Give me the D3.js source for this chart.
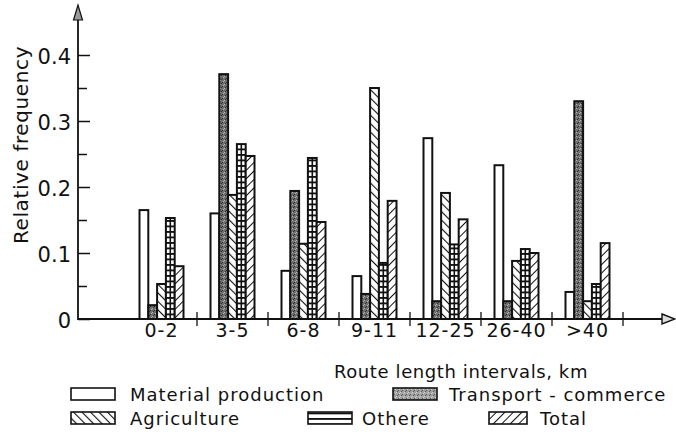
<!DOCTYPE html>
<html>
<head>
<meta charset="utf-8">
<script src="https://cdn.jsdelivr.net/npm/d3@7"></script>
<style>
  body { margin: 0; background: #fff; }
  text { font-family: "DejaVu Sans", sans-serif; fill: #111; }
</style>
</head>
<body>
<div id="chart"></div>
<script>
// Data
var categories = ["0-2", "3-5", "6-8", "9-11", "12-25", "26-40", ">40"];
var series = ["Material production", "Transport - commerce", "Agriculture", "Othere", "Total"];
var material    = [0.165, 0.160, 0.073, 0.065, 0.274, 0.233, 0.041];
var transport   = [0.021, 0.371, 0.194, 0.038, 0.027, 0.027, 0.330];
var agriculture = [0.053, 0.188, 0.114, 0.350, 0.191, 0.088, 0.027];
var othere      = [0.153, 0.265, 0.244, 0.085, 0.113, 0.106, 0.053];
var total       = [0.080, 0.247, 0.147, 0.179, 0.151, 0.100, 0.115];
var yTicks = [0, 0.1, 0.2, 0.3, 0.4];
var yMinorTicks = [0.05, 0.15, 0.25, 0.35];

var seriesValues = [material, transport, agriculture, othere, total];
var fills = ["#fff", "url(#pat-transport)", "url(#pat-agri)", "url(#pat-other)", "url(#pat-total)"];

var width = 676, height = 434;
var axisX = 78, axisY = 319;

var svg = d3.select("#chart")
  .append("svg")
  .attr("width", width)
  .attr("height", height);

// hatch patterns
var defs = svg.append("defs");

function stipple(id, base, dark, light) {
  var p = defs.append("pattern")
    .attr("id", id)
    .attr("patternUnits", "userSpaceOnUse")
    .attr("width", 4).attr("height", 4);
  p.append("rect").attr("width", 4).attr("height", 4).attr("fill", base);
  p.append("rect").attr("x", 0).attr("y", 0).attr("width", 1).attr("height", 1).attr("fill", light);
  p.append("rect").attr("x", 2).attr("y", 2).attr("width", 1).attr("height", 1).attr("fill", dark);
  p.append("rect").attr("x", 3).attr("y", 1).attr("width", 1).attr("height", 1).attr("fill", light);
  p.append("rect").attr("x", 1).attr("y", 3).attr("width", 1).attr("height", 1).attr("fill", dark);
}
stipple("pat-transport", "#6f6f6f", "#2e2e2e", "#b5b5b5");
stipple("pat-transport-key", "#a0a0a0", "#5a5a5a", "#d0d0d0");

function hatch(id, size, angle, sw) {
  var p = defs.append("pattern")
    .attr("id", id)
    .attr("patternUnits", "userSpaceOnUse")
    .attr("width", size).attr("height", size)
    .attr("patternTransform", "rotate(" + angle + ")");
  p.append("rect").attr("width", size).attr("height", size).attr("fill", "#fff");
  p.append("line")
    .attr("x1", 0).attr("y1", 0).attr("x2", 0).attr("y2", size)
    .attr("stroke", "#111").attr("stroke-width", sw);
}
hatch("pat-agri", 6, -45, 2.2);
hatch("pat-total", 6, 45, 2);

var po = defs.append("pattern")
  .attr("id", "pat-other")
  .attr("patternUnits", "userSpaceOnUse")
  .attr("width", 6).attr("height", 5.5);
po.append("rect").attr("width", 6).attr("height", 5.5).attr("fill", "#fff");
po.append("line")
  .attr("x1", 0).attr("y1", 0.8).attr("x2", 6).attr("y2", 0.8)
  .attr("stroke", "#111").attr("stroke-width", 2.1);

// scales
var x = d3.scaleBand().domain(categories).range([126, 623]).padding(0);
var xInner = d3.scaleBand().domain(series).range([13.5, x.bandwidth() - 13.5]).padding(0);
var y = d3.scaleLinear().domain([0, 0.4]).range([axisY, 55]);

// bars
var rows = [];
categories.forEach(function (c, i) {
  series.forEach(function (s, j) {
    rows.push({ cat: c, key: s, idx: j, value: seriesValues[j][i] });
  });
});

svg.append("g")
  .selectAll("rect")
  .data(rows)
  .enter()
  .append("rect")
  .attr("x", function (d) { return x(d.cat) + xInner(d.key); })
  .attr("y", function (d) { return y(d.value); })
  .attr("width", xInner.bandwidth())
  .attr("height", function (d) { return y(0) - y(d.value); })
  .attr("fill", function (d) { return fills[d.idx]; })
  .attr("stroke", "#111")
  .attr("stroke-width", 2);

// centre line of the "Othere" ladder bars
svg.append("g")
  .selectAll("line")
  .data(rows.filter(function (d) { return d.idx === 3; }))
  .enter()
  .append("line")
  .attr("x1", function (d) { return x(d.cat) + xInner(d.key) + xInner.bandwidth() / 2; })
  .attr("x2", function (d) { return x(d.cat) + xInner(d.key) + xInner.bandwidth() / 2; })
  .attr("y1", function (d) { return y(d.value); })
  .attr("y2", y(0))
  .attr("stroke", "#111")
  .attr("stroke-width", 1.6);

// y axis ticks and labels
var yAxis = svg.append("g")
  .attr("transform", "translate(" + axisX + ",0)")
  .call(d3.axisLeft(y)
    .tickValues(yTicks)
    .tickSizeInner(-12)
    .tickSizeOuter(0)
    .tickPadding(7)
    .tickFormat(function (d) { return d === 0 ? "0" : d3.format(".1f")(d); }));
yAxis.select(".domain").remove();
yAxis.selectAll("line").attr("stroke", "#111").attr("stroke-width", 1.5);
yAxis.selectAll("text")
  .style("font-size", "21px")
  .style("font-family", "DejaVu Sans, sans-serif")
  .attr("dy", "0.4em");

var yMinor = svg.append("g")
  .attr("transform", "translate(" + axisX + ",0)")
  .call(d3.axisLeft(y).tickValues(yMinorTicks).tickSizeInner(-9).tickSizeOuter(0).tickFormat(""));
yMinor.select(".domain").remove();
yMinor.selectAll("line").attr("stroke", "#111").attr("stroke-width", 1.5);

// axis lines with arrows
svg.append("line")
  .attr("x1", axisX).attr("y1", axisY + 1).attr("x2", axisX).attr("y2", 18)
  .attr("stroke", "#111").attr("stroke-width", 1.8);
svg.append("path")
  .attr("d", "M" + axisX + ",5 L" + (axisX - 4.5) + ",20 L" + (axisX + 4.5) + ",20 Z")
  .attr("fill", "#999").attr("stroke", "#111").attr("stroke-width", 1.2);

svg.append("line")
  .attr("x1", axisX).attr("y1", axisY).attr("x2", 662).attr("y2", axisY)
  .attr("stroke", "#111").attr("stroke-width", 1.8);
svg.append("path")
  .attr("d", "M662," + (axisY - 5) + " L675," + axisY + " L662," + (axisY + 5) + " Z")
  .attr("fill", "#ddd").attr("stroke", "#111").attr("stroke-width", 1.4);

// x axis: category labels and interval separators
var xAxis = svg.append("g")
  .attr("transform", "translate(0," + axisY + ")")
  .call(d3.axisBottom(x).tickSize(0).tickPadding(5));
xAxis.select(".domain").remove();
xAxis.selectAll("text")
  .style("font-size", "19px")
  .style("font-family", "DejaVu Sans, sans-serif")
  .style("letter-spacing", "1px");

svg.append("g")
  .selectAll("line")
  .data(categories)
  .enter()
  .append("line")
  .attr("x1", function (d) { return x(d) + x.bandwidth(); })
  .attr("x2", function (d) { return x(d) + x.bandwidth(); })
  .attr("y1", axisY - 7)
  .attr("y2", axisY + 7)
  .attr("stroke", "#111")
  .attr("stroke-width", 1.3);

// axis titles
svg.append("text")
  .attr("transform", "translate(28,145) rotate(-90)")
  .attr("text-anchor", "middle")
  .style("font-size", "20px")
  .style("letter-spacing", "0.6px")
  .text("Relative frequency");

svg.append("text")
  .attr("x", 461)
  .attr("y", 378)
  .attr("text-anchor", "middle")
  .style("font-size", "18px")
  .style("letter-spacing", "0.6px")
  .text("Route length intervals, km");

// legend
var legendPos = [
  { sx: 71, tx: 130, cy: 394 },
  { sx: 393, tx: 449, cy: 394 },
  { sx: 71, tx: 130, cy: 418 },
  { sx: 308, tx: 362, cy: 418 },
  { sx: 489, tx: 540, cy: 418 }
];
var legendFills = ["#fff", "url(#pat-transport-key)", "url(#pat-agri)", "url(#pat-other)", "url(#pat-total)"];

var legend = svg.append("g")
  .selectAll("g")
  .data(series)
  .enter()
  .append("g");

legend.append("rect")
  .attr("x", function (d, i) { return legendPos[i].sx; })
  .attr("y", function (d, i) { return legendPos[i].cy - 6; })
  .attr("width", function (d, i) { return i === 4 ? 38 : 44; })
  .attr("height", 12)
  .attr("fill", function (d, i) { return legendFills[i]; })
  .attr("stroke", "#111")
  .attr("stroke-width", 1.6);

legend.append("text")
  .attr("x", function (d, i) { return legendPos[i].tx; })
  .attr("y", function (d, i) { return legendPos[i].cy + 7; })
  .style("font-size", "18px")
  .style("letter-spacing", "1px")
  .text(function (d) { return d; });
</script>
</body>
</html>
